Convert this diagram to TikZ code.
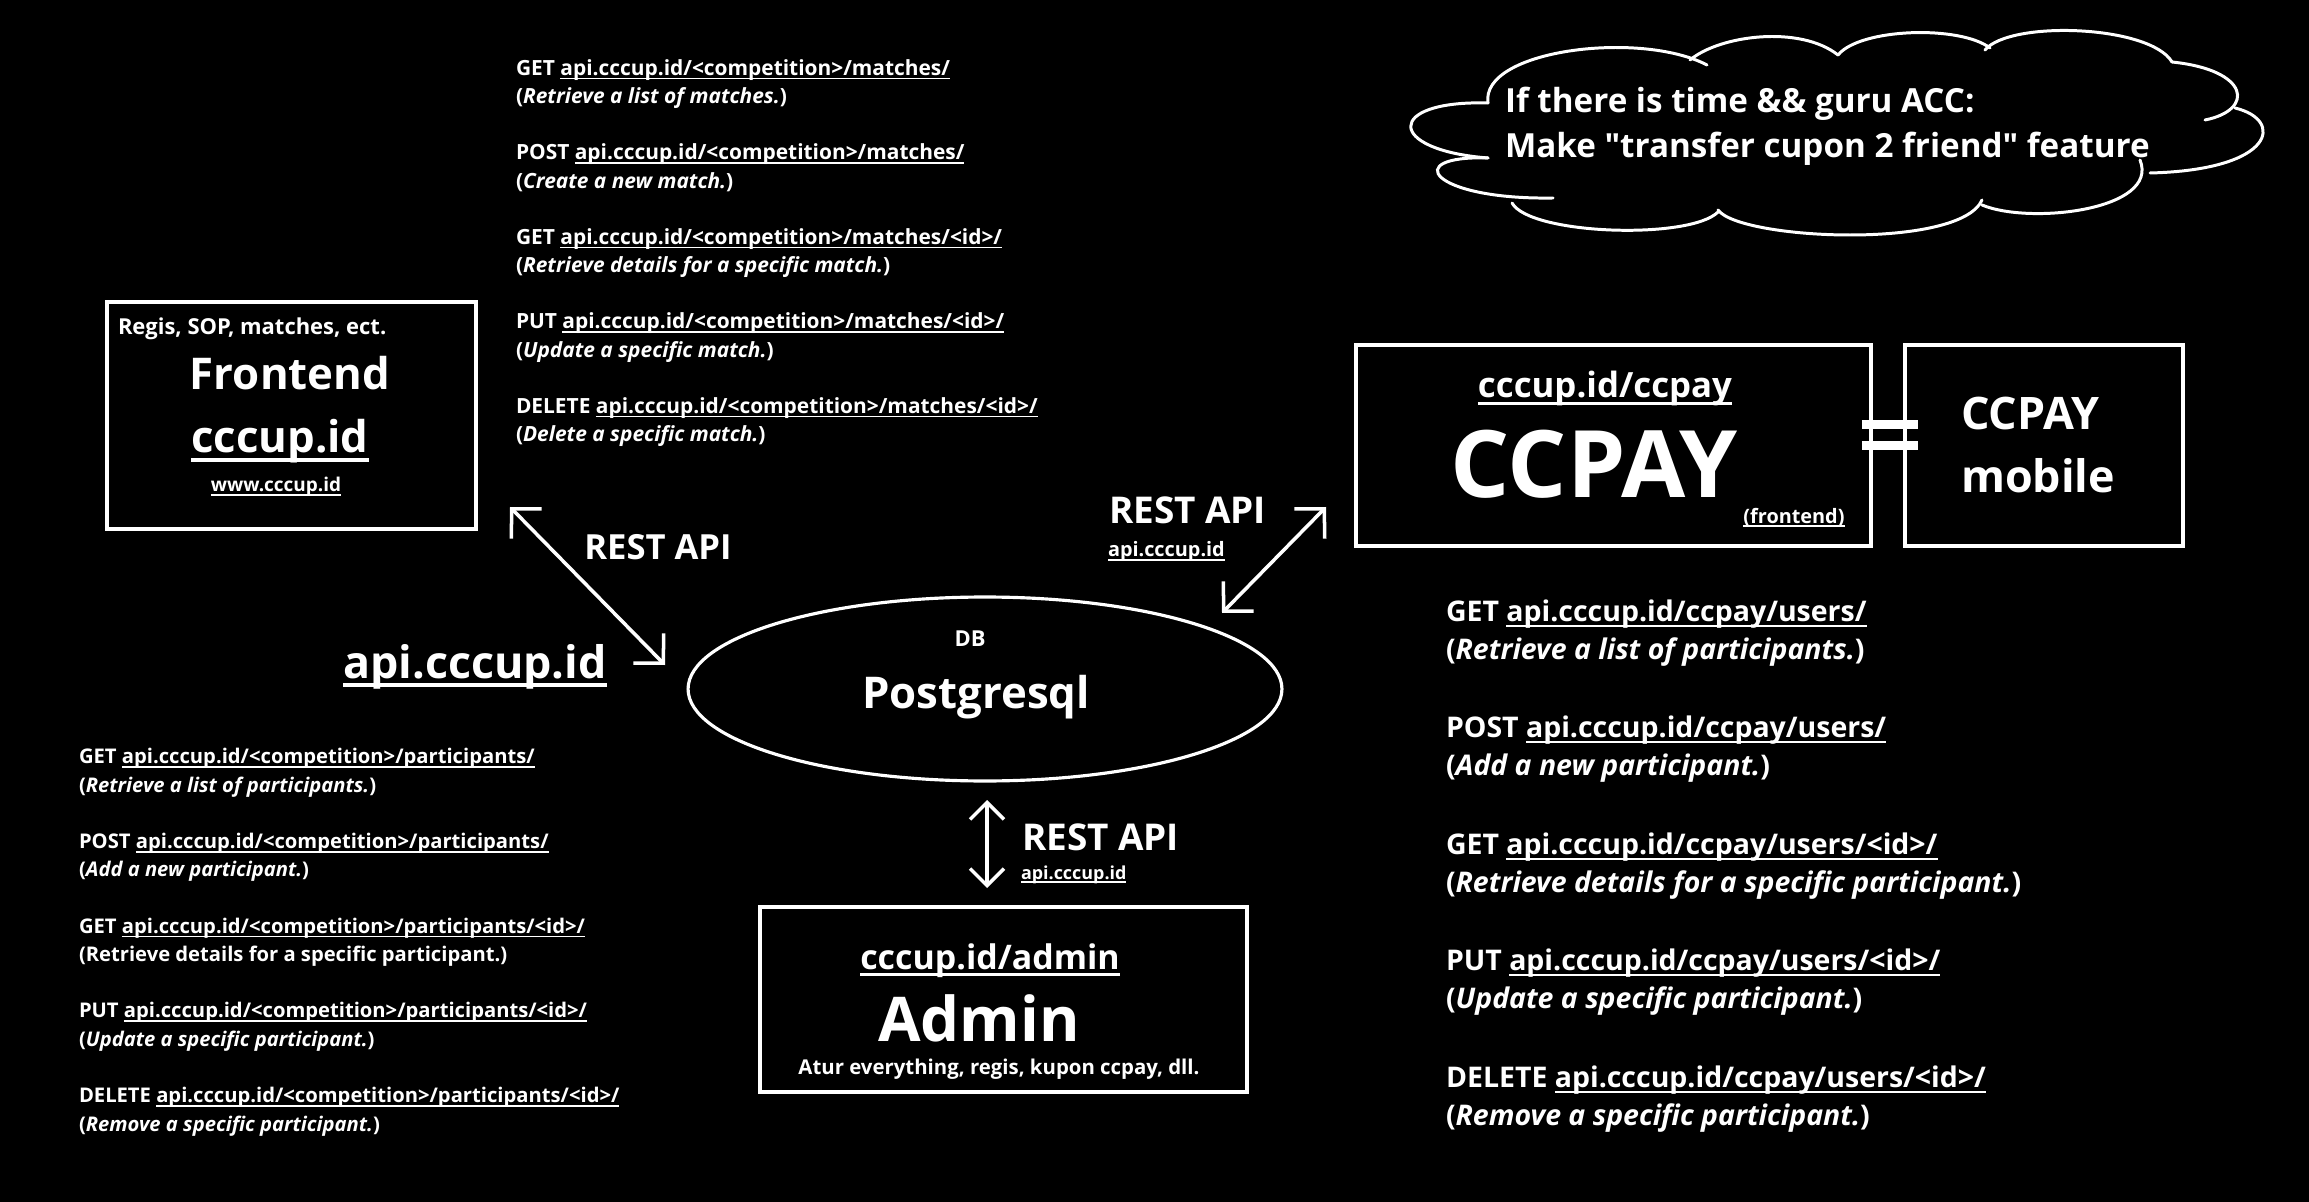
\documentclass[tikz,border=0pt]{standalone}
\usepackage{fontspec}
\setmainfont{Open Sans}
\usetikzlibrary{arrows.meta,calc,shapes.geometric}

% underline through the descenders, like the original sketch
\newsavebox{\undlbox}
\newcommand{\undl}[1]{\sbox{\undlbox}{#1}\rlap{\rule[-.2em]{\wd\undlbox}{.08em}}\usebox{\undlbox}}
% one REST call: method, url, description in brackets
\newcommand{\call}[3]{#1 \undl{#2}\\(\textit{#3})}
\newcommand{\fsz}[2]{\fontsize{#1}{#2}\selectfont\bfseries}

\begin{document}
\begin{tikzpicture}[x=0.02cm,y=-0.02cm,
    every node/.style={text=white,inner sep=0pt,outer sep=0pt},
    box/.style={draw=white,line width=2.3pt,rectangle},
    lbl/.style={anchor=base},
    lst/.style={anchor=base west,align=left},% base = last line
    dbl/.style={white,line width=2pt,>={Straight Barb[length=0.42cm,width=0.85cm]},<->},
    eqbar/.style={white,line width=5.1pt},
    puff/.style={white,line width=1.7pt,line cap=round},
  ]
  \useasboundingbox (0,0) rectangle (2309,1202);
  \fill[black] (0,0) rectangle (2309,1202);

  % ---- frontend
  \node[box,minimum width=7.38cm,minimum height=4.54cm] (front) at (291.5,415.5) {};
  \node[anchor=base west,font=\fsz{12.5}{15}] (frontnote) at (118,335) {Regis, SOP, matches, ect.};
  \node[lbl,font=\fsz{24.9}{30}] (fronttitle) at (290,390) {Frontend};
  \node[lbl,font=\fsz{24.9}{30}] (fronturl) at (280,453) {\undl{cccup.id}};
  \node[lbl,font=\fsz{10.8}{13}] (frontwww) at (276,492) {\undl{www.cccup.id}};

  % ---- database
  \node[draw=white,ellipse,line width=1.8pt,minimum width=11.88cm,minimum height=3.68cm] (db) at (985,689) {};
  \node[lbl,font=\fsz{12.5}{15}] (dbtag) at (970,646) {DB};
  \node[lbl,font=\fsz{24.9}{30}] (dbname) at (976,708) {Postgresql};

  % ---- ccpay and mobile
  \node[box,minimum width=10.3cm,minimum height=4.02cm] (ccpay) at (1613.5,445.5) {};
  \node[lbl,font=\fsz{19.8}{24}] (ccpayurl) at (1605,398) {\undl{cccup.id/ccpay}};
  \node[lbl,font=\fsz{53}{60}] (ccpaytitle) at (1594,498) {CCPAY};
  \node[lbl,font=\fsz{11.3}{14}] (ccpayfe) at (1794,523) {\undl{(frontend)}};
  \node[box,minimum width=5.56cm,minimum height=4.02cm] (mobile) at (2044,445.5) {};
  \node[anchor=base west,font=\fsz{25.5}{30}] (mobiletop) at (1961,430) {CCPAY};
  \node[anchor=base west,font=\fsz{25.5}{30}] (mobilebot) at (1961,493) {mobile};
  \draw[eqbar] ($(ccpay.east)+(-9,-21)$) -- ($(mobile.west)+(13,-21)$);
  \draw[eqbar] ($(ccpay.east)+(-9,0)$) -- ($(mobile.west)+(13,0)$);

  % ---- admin
  \node[box,minimum width=9.74cm,minimum height=3.7cm] (admin) at (1003.5,999.5) {};
  \node[lbl,font=\fsz{19.3}{23}] (adminurl) at (990,969) {\undl{cccup.id/admin}};
  \node[lbl,font=\fsz{35.1}{42}] (admintitle) at (979,1041) {Admin};
  \node[lbl,font=\fsz{11.6}{14}] (adminnote) at (999,1074) {Atur everything, regis, kupon ccpay, dll.};

  % ---- REST connectors
  \coordinate (fronttip) at (510,507);
  \coordinate (dbleft) at (665,665);
  \coordinate (ccpaytip) at (1326,507);
  \coordinate (dbright) at (1222,613);
  \coordinate (dbbottom) at (987,800);
  \coordinate (admintop) at (987,888);
  \draw[dbl] (fronttip) -- (dbleft);
  \draw[dbl] (ccpaytip) -- (dbright);
  \draw[dbl,>={Straight Barb[length=0.34cm,width=0.68cm]}] (dbbottom) -- (admintop);
  \node[lbl,font=\fsz{19.7}{22}] (restleft) at (658,560) {REST API};
  \node[lbl,font=\fsz{25.5}{30}] (apibig) at (475,678) {\undl{api.cccup.id}};
  \node[anchor=base west,font=\fsz{21}{24}] (restright) at (1109,523) {REST API};
  \node[anchor=base west,font=\fsz{11.3}{14}] (apiright) at (1108,557) {\undl{api.cccup.id}};
  \node[anchor=base west,font=\fsz{21}{24}] (restdown) at (1022,850) {REST API};
  \node[anchor=base west,font=\fsz{10.2}{12}] (apidown) at (1021,879) {\undl{api.cccup.id}};

  % ---- endpoint lists
  \node[lst,font=\fsz{11.9}{16.4}] (matches) at (516,442) {%
    \call{GET}{api.cccup.id/<competition>/matches/}{Retrieve a list of matches.}\\[15.3pt]
    \call{POST}{api.cccup.id/<competition>/matches/}{Create a new match.}\\[15.3pt]
    \call{GET}{api.cccup.id/<competition>/matches/<id>/}{Retrieve details for a specific match.}\\[15.3pt]
    \call{PUT}{api.cccup.id/<competition>/matches/<id>/}{Update a specific match.}\\[15.3pt]
    \call{DELETE}{api.cccup.id/<competition>/matches/<id>/}{Delete a specific match.}};
  \node[lst,font=\fsz{11.5}{16.2}] (participants) at (79,1131) {%
    \call{GET}{api.cccup.id/<competition>/participants/}{Retrieve a list of participants.}\\[15.8pt]
    \call{POST}{api.cccup.id/<competition>/participants/}{Add a new participant.}\\[15.8pt]
    GET \undl{api.cccup.id/<competition>/participants/<id>/}\\(Retrieve details for a specific participant.)\\[15.8pt]
    \call{PUT}{api.cccup.id/<competition>/participants/<id>/}{Update a specific participant.}\\[15.8pt]
    \call{DELETE}{api.cccup.id/<competition>/participants/<id>/}{Remove a specific participant.}};
  \node[lst,font=\fsz{16.2}{21.5}] (users) at (1446,1125) {%
    \call{GET}{api.cccup.id/ccpay/users/}{Retrieve a list of participants.}\\[23.3pt]
    \call{POST}{api.cccup.id/ccpay/users/}{Add a new participant.}\\[23.3pt]
    \call{GET}{api.cccup.id/ccpay/users/<id>/}{Retrieve details for a specific participant.}\\[23.3pt]
    \call{PUT}{api.cccup.id/ccpay/users/<id>/}{Update a specific participant.}\\[23.3pt]
    \call{DELETE}{api.cccup.id/ccpay/users/<id>/}{Remove a specific participant.}};

  % ---- wish cloud
  \node[lst,font=\fsz{18.9}{26.1}] (wish) at (1505,158) {If there is time \&\& guru ACC:\\Make \textquotedbl transfer cupon 2 friend\textquotedbl{} feature};
  \draw[puff] (1488,103) .. controls (1480,50) and (1640,30) .. (1707,65);
  \draw[puff] (1690,60) .. controls (1720,35) and (1800,25) .. (1838,55);
  \draw[puff] (1838,55) .. controls (1860,28) and (1960,25) .. (1990,48);
  \draw[puff] (1985,50) .. controls (2010,20) and (2150,25) .. (2172,62);
  \draw[puff] (2172,62) .. controls (2250,70) and (2255,110) .. (2205,120);
  \draw[puff] (2235,108) .. controls (2285,120) and (2275,170) .. (2150,173);
  \draw[puff] (2140,160) .. controls (2160,210) and (2030,225) .. (1982,205);
  \draw[puff] (1982,200) .. controls (1960,250) and (1740,240) .. (1718,210);
  \draw[puff] (1718,212) .. controls (1690,240) and (1530,235) .. (1512,203);
  \draw[puff] (1553,198) .. controls (1430,200) and (1400,155) .. (1488,158);
  \draw[puff] (1488,158) .. controls (1385,150) and (1385,100) .. (1488,103);
\end{tikzpicture}
\end{document}
